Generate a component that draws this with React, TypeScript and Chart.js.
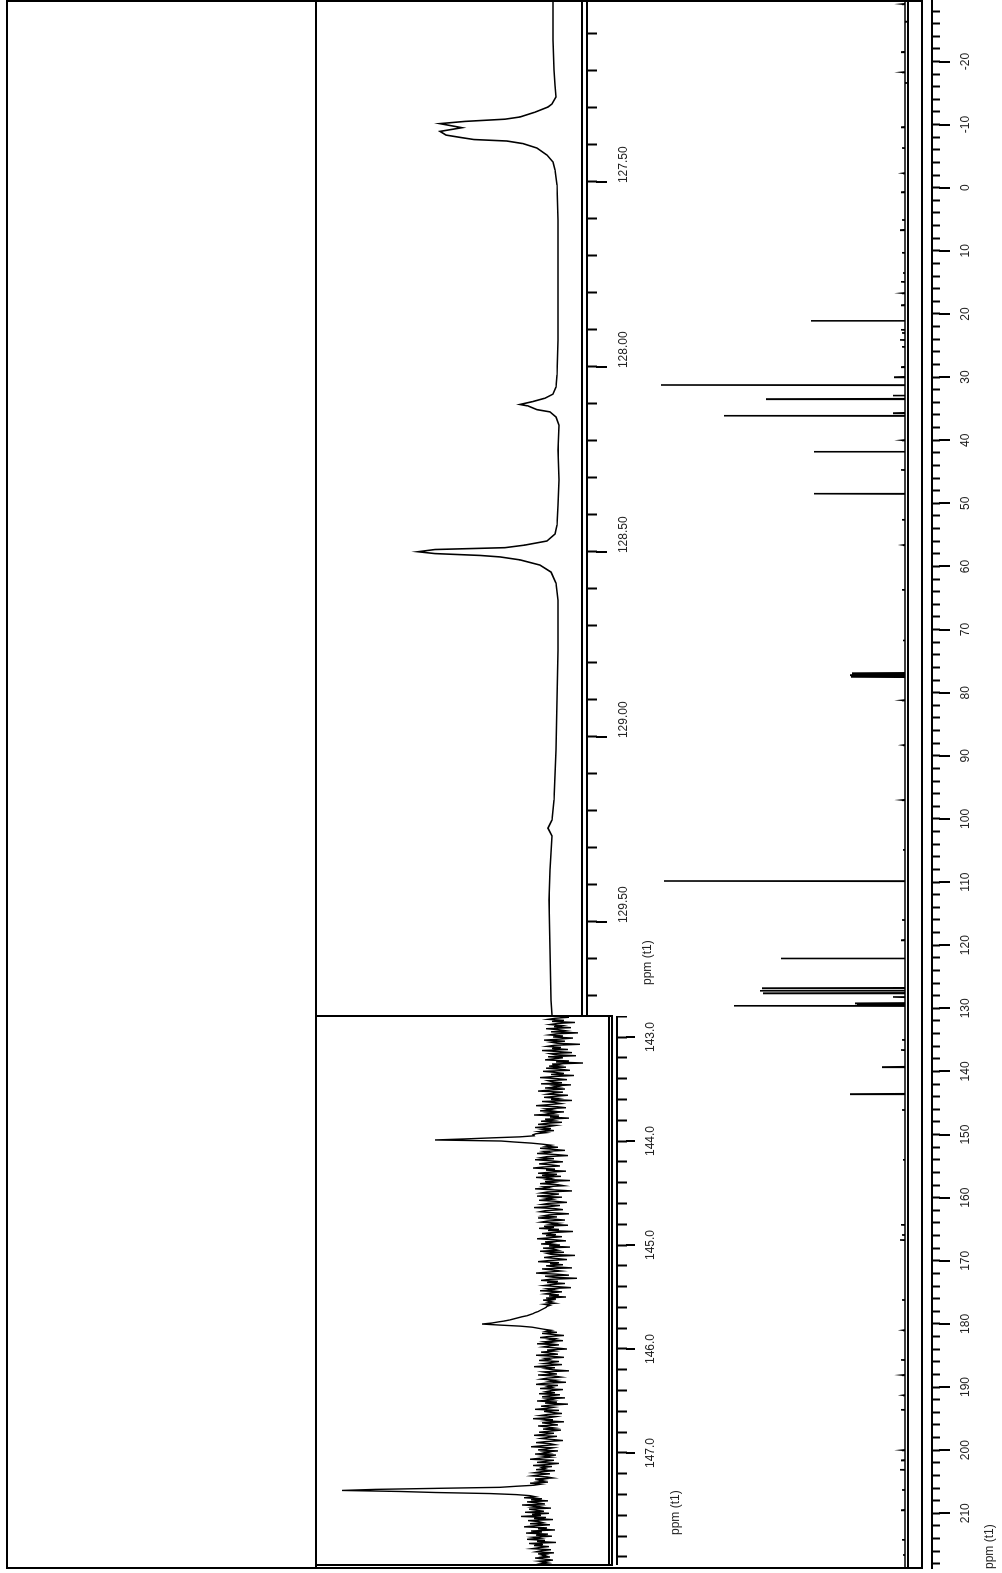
import React, { useEffect, useRef } from "react";
import { Chart, registerables } from "chart.js";

Chart.register(...registerables);

const FONT = "'Liberation Sans', Arial, Helvetica, sans-serif";
Chart.defaults.font.family = FONT;

// ---------------- main 13C spectrum (ppm, peak height) ----------------
const mainTickLabels = [-20, -10, 0, 10, 20, 30, 40, 50, 60, 70, 80, 90, 100, 110, 120, 130, 140, 150, 160, 170, 180, 190, 200, 210];
const mainPeakPpm = [21.06, 31.25, 33.47, 36.12, 41.8, 48.47, 76.9, 77.2, 77.5, 109.83, 122.08, 126.8, 127.2, 127.6, 129.2, 129.4, 129.6, 139.3, 143.58];
const mainPeakHeight = [94, 244, 139, 181, 91, 91, 53, 55, 54, 241, 124, 143, 145, 142, 50, 48, 171, 23, 55];
const smallPeakPpm = [-29.1, -26.3, -21.5, -18.3, -16.6, -9.6, -6.3, -2.3, 0.7, 5.1, 6.7, 10.3, 13.5, 14.9, 16.7, 18.6, 22.5, 23.0, 24.1, 25.2, 28.4, 30.0, 32.9, 35.7, 40.0, 44.7, 52.6, 56.6, 63.7, 71.7, 81.2, 88.3, 97.0, 104.9, 116.0, 119.2, 128.2, 135.0, 136.6, 146.1, 154.0, 164.3, 165.9, 166.7, 176.2, 181.0, 185.7, 188.1, 191.3, 193.6, 200.0, 201.6, 203.1, 206.3, 209.5, 214.2, 216.6];
const smallPeakHeight = [3, -3, 4, 3, -2, 4, 3, 2, 4, 3, 5, 3, 2, 4, 3, 4, 4, 3, 5, 3, 4, 11, 12, 12, 3, 4, 3, 2, 3, 2, 3, 2, 3, 2, 3, 4, 12, 3, 4, 3, 2, 4, 3, 5, 3, 2, 4, 3, 2, 4, 3, 4, 5, 3, 4, 3, 2];

// ---------------- inset 1 : 127.0 - 129.75 ppm ----------------
const inset1TickLabels = [127.5, 128.0, 128.5, 129.0, 129.5];
const inset1Ppm = [127.012, 127.117, 127.198, 127.239, 127.271, 127.290, 127.298, 127.312, 127.325, 127.331, 127.337, 127.343, 127.354, 127.364, 127.374, 127.381, 127.386, 127.390, 127.397, 127.409, 127.428, 127.447, 127.468, 127.509, 127.604, 127.766, 127.928, 128.022, 128.055, 128.074, 128.085, 128.094, 128.102, 128.106, 128.116, 128.122, 128.136, 128.158, 128.225, 128.306, 128.374, 128.428, 128.452, 128.471, 128.482, 128.489, 128.494, 128.500, 128.505, 128.510, 128.514, 128.522, 128.536, 128.555, 128.585, 128.631, 128.766, 128.901, 129.036, 129.171, 129.225, 129.247, 129.268, 129.360, 129.441, 129.576, 129.712, 129.752];
const inset1Intensity = [7, 7, 6, 5, 4, 8, 12, 25, 40, 55, 95, 120, 98, 120, 114, 98, 86, 53, 37, 23, 13, 7, 5, 3, 2, 2, 2, 3, 4, 7, 15, 27, 40, 32, 23, 10, 4, 1, 2, 1, 2, 3, 5, 13, 35, 55, 125, 142, 125, 80, 60, 40, 20, 9, 4, 2, 2, 3, 4, 6, 8, 12, 8, 10, 11, 10, 9, 8];

// ---------------- inset 2 : 142.8 - 148.08 ppm (sampled every 0.01 ppm) ----------------
const inset2TickLabels = [143.0, 144.0, 145.0, 146.0, 147.0];
const inset2StartPpm = 142.8;
const inset2StepPpm = 0.01;
const inset2Intensity = [
  2, -9, 5, 12, -4, 8, -15, 3, 10, -2, 6, -11, 14, 1, -6, 9, -18, 4, 11, -3,
  7, -13, 0, 16, -5, 9, 3, -20, 6, 13, -1, 8, -8, 18, 2, -12, 10, 5, -16, 12,
  -3, 7, 15, -9, 4, -23, 8, 1, 11, -6, 14, 0, -10, 17, 5, -4, 9, -14, 6, 20,
  3, -7, 12, 8, -2, 19, -11, 6, 1, 15, -5, 10, 22, -3, 7, 13, -8, 4, 16, 2,
  9, -12, 18, 5, -1, 11, 24, 3, -6, 14, 8, 20, -4, 12, 6, 26, 1, 10, -9, 15,
  7, 19, -2, 13, 22, 4, 11, 25, 9, 17, 6, 21, 14, 24, 27, 26, 40, 69, 95, 125,
  59, 45, 29, 18, 9, 14, 2, 20, 7, -5, 16, 11, 23, 4, -8, 13, 19, 6, 25, 10,
  -3, 12, 21, 8, 0, 17, 27, 5, 14, -6, 10, 22, 3, 18, -1, 24, 9, 13, -10, 15,
  7, 20, 2, -4, 16, 11, 25, 6, -12, 13, 19, 1, 9, 23, -2, 14, 8, 21, 4, -7,
  12, 18, 0, 10, 26, 5, -3, 15, 20, 7, -9, 11, 17, 3, 22, 8, -5, 13, 19, 2,
  9, -8, 16, 6, 21, 1, 12, -13, 7, 18, 4, 14, -2, 10, 23, 5, -6, 15, 8, 19,
  0, 11, -10, 17, 6, 2, 20, -4, 13, 9, -15, 7, 16, 3, -7, 12, 22, 1, 10, -3,
  14, 5, -12, 18, 8, -1, 11, 24, 4, -9, 15, 7, -17, 10, 19, 2, 13, -5, 8, 16,
  3, -11, 12, 6, 20, -2, 9, 15, 1, 11, -6, 14, 4, 17, 8, 12, 5, 16, 10, 13,
  14, 16, 18, 20, 22, 25, 27, 30, 33, 38, 42, 46, 50, 55, 62, 68, 78, 60, 40, 28,
  22, 16, 9, 14, 3, 18, 7, -4, 12, 20, 5, 10, -3, 15, 8, 23, 1, 11, 17, 4,
  -7, 13, 6, 19, 10, 2, 24, 8, -4, 15, 11, 21, 1, 9, 16, -2, 12, 26, 5, 14,
  7, -9, 17, 11, 3, 22, 6, -1, 13, 19, 4, 10, -6, 16, 24, 2, 12, 8, 20, -3,
  9, 14, 5, 21, 0, 11, 18, -5, 13, 7, 23, 3, 15, -8, 10, 19, 6, 12, 25, 1,
  16, 8, -2, 13, 20, 4, 11, 27, 7, 14, -4, 18, 9, 2, 22, 12, 5, 17, -1, 10,
  21, 6, 15, 26, 3, 12, 19, 8, -3, 14, 24, 10, 5, 18, 29, 7, 13, 22, 2, 16,
  11, 25, 4, 17, 9, 20, 30, 6, 14, 23, 1, 12, 27, 8, 18, 15, 24, 5, 19, 26,
  10, 21, 28, 13, 7, 25, 16, 22, 12, 30, 19, 26, 44, 60, 124, 185, 218, 160, 124, 70,
  44, 30, 25, 36, 18, 29, 12, 33, 22, 15, 38, 20, 27, 9, 31, 24, 16, 35, 11, 28,
  19, 39, 14, 26, 7, 32, 21, 17, 30, 10, 25, 36, 13, 22, 5, 29, 18, 34, 12, 24,
  8, 27, 20, 33, 15, 23, 4, 31, 17, 26, 11, 21, 28, 9, 19, 24, 6, 22, 14, 18,
  10, 25, 16, 7, 21, 13, 19, 9, 15,
];

type AxisSpec = {
  min: number; max: number; majors: number[];
  minorStep: number; minorFrom: number; minorTo: number;
  minorLen: number; majorLen: number; labelPad: number; labelOffset: number; axisHeight: number; decimals: number;
};

const mainAxis: AxisSpec = { min: -29.585, max: 218.67, majors: mainTickLabels, minorStep: 2, minorFrom: -28, minorTo: 218, minorLen: 8, majorLen: 18, labelPad: 18, labelOffset: 0, axisHeight: 70, decimals: 0 };
const inset1Axis: AxisSpec = { min: 127.0116, max: 129.752, majors: inset1TickLabels, minorStep: 0.1, minorFrom: 127.1, minorTo: 129.7, minorLen: 10, majorLen: 20, labelPad: 19, labelOffset: 17, axisHeight: 74, decimals: 2 };
const inset2Axis: AxisSpec = { min: 142.798, max: 148.077, majors: inset2TickLabels, minorStep: 0.2, minorFrom: 142.8, minorTo: 148.0, minorLen: 10, majorLen: 18, labelPad: 16, labelOffset: 0, axisHeight: 79, decimals: 1 };

function tickValues(spec: AxisSpec): number[] {
  const vals = new Set<number>();
  const n = Math.round((spec.minorTo - spec.minorFrom) / spec.minorStep);
  for (let i = 0; i <= n; i++) vals.add(+(spec.minorFrom + i * spec.minorStep).toFixed(4));
  spec.majors.forEach((v) => vals.add(+v.toFixed(4)));
  return [...vals].sort((a, b) => b - a);
}

function xScale(spec: AxisSpec): any {
  const all = tickValues(spec);
  const majorKeys = new Set(spec.majors.map((v) => v.toFixed(4)));
  return {
    type: "linear",
    position: "bottom",
    reverse: true,
    min: spec.min,
    max: spec.max,
    afterBuildTicks: (s: any) => { s.ticks = all.map((v) => ({ value: v })); },
    afterFit: (s: any) => {
      s.height = spec.axisHeight;
      s.paddingLeft = 0;
      s.paddingRight = 0;
    },
    ticks: {
      autoSkip: false, maxRotation: 0, minRotation: 0, padding: spec.labelPad, labelOffset: spec.labelOffset,
      color: "#222", font: { family: FONT, size: 12 },
      callback: (v: any) => (majorKeys.has(Number(v).toFixed(4)) ? Number(v).toFixed(spec.decimals) : ""),
    },
    grid: { display: true, drawOnChartArea: false, drawTicks: true, tickLength: spec.minorLen, tickWidth: 2, tickColor: "#000" },
    border: { display: true, color: "#000", width: 2 },
  };
}

function drawMajorTicks(chart: any, spec: AxisSpec) {
  const s = chart.scales.x;
  const ctx = chart.ctx;
  ctx.save();
  ctx.strokeStyle = "#000";
  ctx.lineWidth = 2;
  ctx.beginPath();
  for (const v of spec.majors) {
    const px = Math.round(s.getPixelForValue(v));
    ctx.moveTo(px, s.top + spec.minorLen - 1);
    ctx.lineTo(px, s.top + spec.majorLen);
  }
  ctx.stroke();
  ctx.restore();
}

function drawLabel(ctx: any, text: string, x: number, y: number, align: string) {
  ctx.save();
  ctx.fillStyle = "#222";
  ctx.font = `12px ${FONT}`;
  ctx.textAlign = align;
  ctx.textBaseline = "middle";
  ctx.fillText(text, x, y);
  ctx.restore();
}

function makeConfig(points: any[], spec: AxisSpec, yMin: number, yMax: number, padding: any, lineWidth: number, deco: (chart: any) => void): any {
  return {
    type: "line",
    data: { datasets: [{ data: points, borderColor: "#000", borderWidth: lineWidth, pointRadius: 0, tension: 0, fill: false }] },
    options: {
      responsive: false,
      animation: false,
      events: [],
      layout: { padding, autoPadding: false },
      plugins: { legend: { display: false }, tooltip: { enabled: false }, title: { display: false } },
      scales: { x: xScale(spec), y: { type: "linear", display: false, min: yMin, max: yMax } },
    },
    plugins: [{ id: "deco", afterDraw: (chart: any) => { drawMajorTicks(chart, spec); deco(chart); } }],
  };
}

function mainPoints() {
  const peaks = [
    ...mainPeakPpm.map((p, i) => ({ p, h: mainPeakHeight[i] })),
    ...smallPeakPpm.map((p, i) => ({ p, h: smallPeakHeight[i] })),
  ].sort((a, b) => a.p - b.p);
  const pts: any[] = [{ x: mainAxis.min, y: 0 }];
  for (const { p, h } of peaks) {
    pts.push({ x: p - 0.05, y: 0 }, { x: p, y: h }, { x: p + 0.05, y: 0 });
  }
  pts.push({ x: mainAxis.max, y: 0 });
  return pts;
}

export default function App() {
  const mainRef = useRef<HTMLCanvasElement>(null);
  const in1Ref = useRef<HTMLCanvasElement>(null);
  const in2Ref = useRef<HTMLCanvasElement>(null);

  useEffect(() => {
    const charts: Chart[] = [];

    charts.push(new Chart(mainRef.current as HTMLCanvasElement, makeConfig(
      mainPoints(), mainAxis, -27, 898, { left: 5, right: 1, top: 7, bottom: 0 }, 1.6,
      (chart: any) => {
        const ctx = chart.ctx;
        ctx.save();
        ctx.strokeStyle = "#000";
        ctx.lineWidth = 2;
        ctx.beginPath();
        const seg = (x1: number, y1: number, x2: number, y2: number) => { ctx.moveTo(x1, y1); ctx.lineTo(x2, y2); };
        seg(4, 7, 1573, 7);
        seg(4, 316, 1573, 316);
        seg(4, 908, 1573, 908);
        seg(4, 922, 1573, 922);
        seg(1572, 6, 1572, 923);
        seg(5, 6, 5, 923);
        seg(557, 316, 557, 613);
        seg(557, 582, 1573, 582);
        seg(7, 609, 557, 609);
        seg(7, 612, 557, 612);
        seg(8, 316, 8, 613);
        ctx.stroke();
        ctx.restore();
        drawLabel(ctx, "ppm (t1)", 4, 990, "left");
      }
    )));

    charts.push(new Chart(in1Ref.current as HTMLCanvasElement, makeConfig(
      inset1Ppm.map((p, i) => ({ x: p, y: inset1Intensity[i] })), inset1Axis, -27, 244, 0, 1.6,
      (chart: any) => drawLabel(chart.ctx, "ppm (t1)", 30, 332, "left")
    )));

    charts.push(new Chart(in2Ref.current as HTMLCanvasElement, makeConfig(
      inset2Intensity.map((v, i) => ({ x: inset2StartPpm + i * inset2StepPpm, y: v })), inset2Axis, -57, 244, 0, 1.4,
      (chart: any) => drawLabel(chart.ctx, "ppm (t1)", 30, 360, "left")
    )));

    return () => charts.forEach((c) => c.destroy());
  }, []);

  return (
    <div style={{ position: "absolute", left: 0, top: 0, width: 1002, height: 1573, overflow: "hidden", background: "#fff" }}>
      <div style={{ position: "absolute", left: 0, top: 1573, width: 1573, height: 1002, transformOrigin: "0 0", transform: "rotate(-90deg)" }}>
        <canvas ref={mainRef} width={1573} height={1002} style={{ position: "absolute", left: 0, top: 0, width: 1573, height: 1002 }} />
        <canvas ref={in1Ref} width={1014} height={345} style={{ position: "absolute", left: 558, top: 316, width: 1014, height: 345 }} />
        <canvas ref={in2Ref} width={549} height={380} style={{ position: "absolute", left: 8, top: 316, width: 549, height: 380 }} />
      </div>
    </div>
  );
}
